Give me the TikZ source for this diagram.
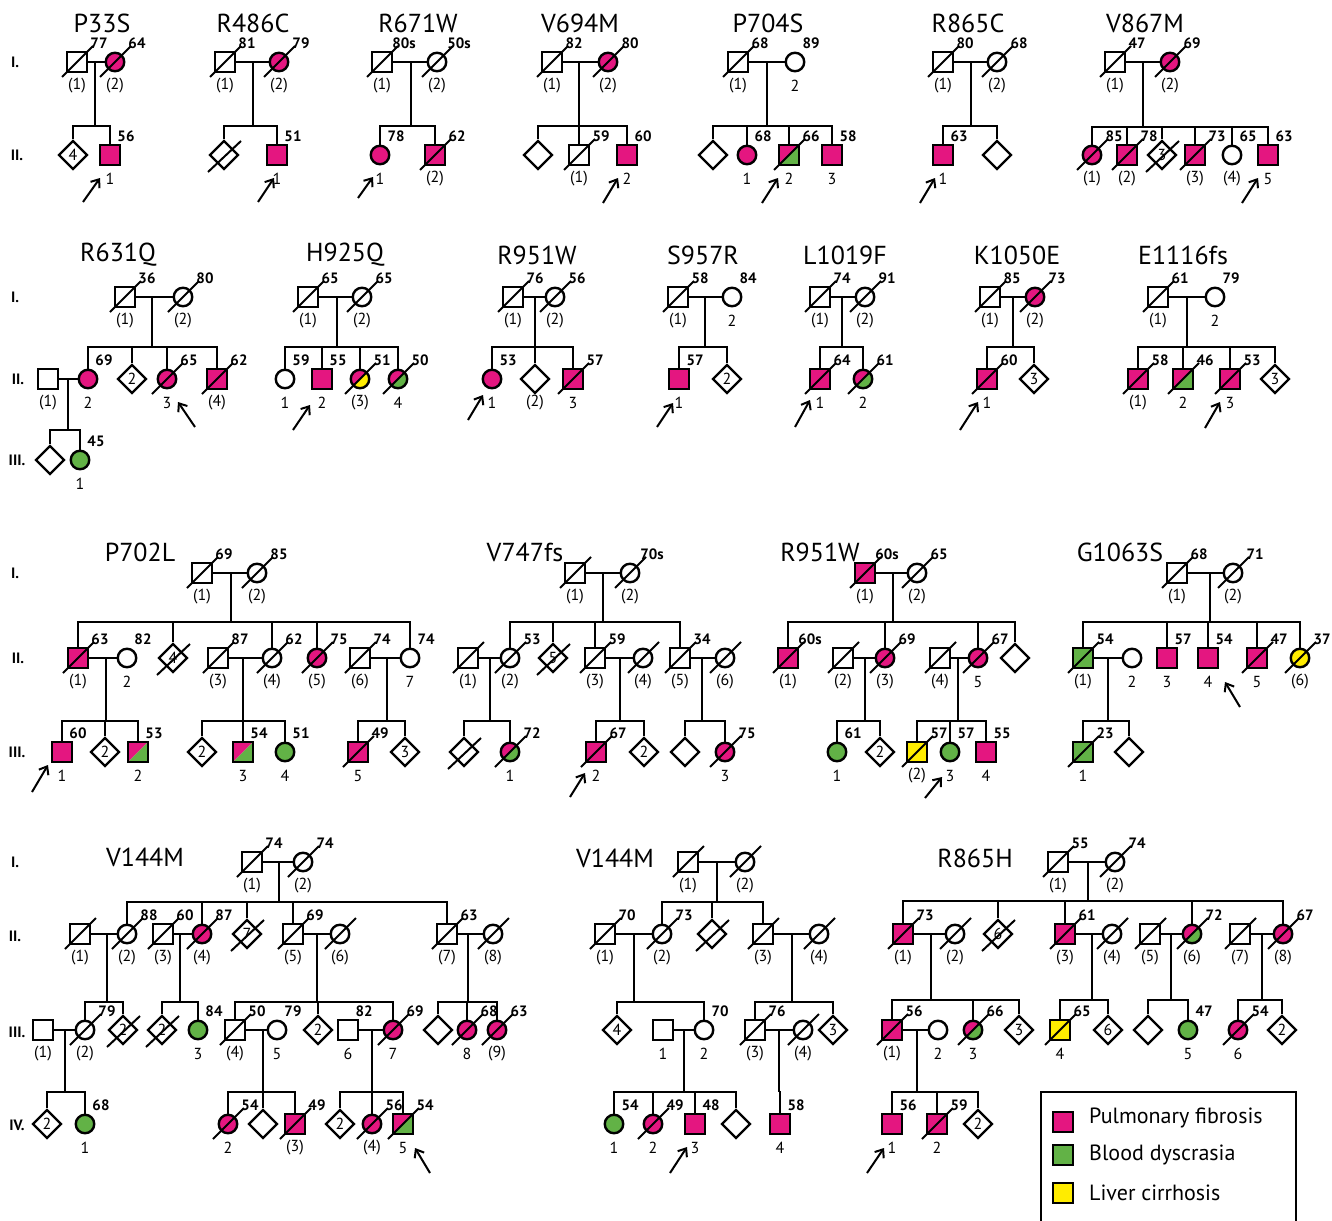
\documentclass[tikz,border=0pt]{standalone}
\usepackage{fontspec}
\setmainfont{PT Sans}
\usetikzlibrary{shapes.geometric,arrows.meta}
\definecolor{pkc}{RGB}{228,22,128}
\definecolor{gnc}{RGB}{98,178,70}
\definecolor{ylc}{RGB}{255,236,0}
\pgfdeclarelayer{bg}
\pgfsetlayers{bg,main}
\tikzset{
 ln/.style={line width=2.4pt},
 sym/.style={draw, line width=2.4pt, fill=white, inner sep=0pt},
 sq/.style={sym, rectangle, minimum size=19.5pt},
 ci/.style={sym, circle, minimum size=18.5pt},
 di/.style={sym, diamond, minimum width=29pt, minimum height=29pt, font=\fontsize{16}{16}\selectfont},
 pk/.style={fill=pkc}, gn/.style={fill=gnc}, yl/.style={fill=ylc},
 halffill/.style={path picture={
   \fill[pkc] (path picture bounding box.south west) -- (path picture bounding box.north west) -- (path picture bounding box.north east) -- cycle;
   \fill[#1] (path picture bounding box.south west) -- (path picture bounding box.south east) -- (path picture bounding box.north east) -- cycle;}},
 pg/.style={halffill=gnc}, py/.style={halffill=ylc},
 sl/.style={line width=2pt},
 lab/.style={font=\fontsize{16}{16}\selectfont, inner sep=0pt},
 age/.style={font=\bfseries\fontsize{15}{15}\selectfont, inner sep=0pt},
 ttl/.style={font=\fontsize{26}{26}\selectfont, inner sep=0pt},
 gen/.style={font=\bfseries\fontsize{15}{15}\selectfont, inner sep=0pt},
 arr/.style={line width=2pt, -{Straight Barb[length=7pt,width=11pt]}},
 lgt/.style={anchor=west, inner sep=0pt, font=\fontsize{22}{22}\selectfont},
}
\newcommand\Msq[5][]{\node[sq,#1] (#2) at (#3) {};\node[lab] (#2-l) at ([yshift=-24pt]#2.center) {#4};\node[age] (#2-a) at ([xshift=16pt,yshift=19pt]#2.center) {#5};}
\newcommand\Msqd[5][]{\node[sq,#1] (#2) at (#3) {};\draw[sl] ([xshift=-15pt,yshift=-15pt]#2.center) -- ([xshift=16pt,yshift=16pt]#2.center);\node[lab] (#2-l) at ([yshift=-24pt]#2.center) {#4};\node[age] (#2-a) at ([xshift=22pt,yshift=19pt]#2.center) {#5};}
\newcommand\Fci[5][]{\node[ci,#1] (#2) at (#3) {};\node[lab] (#2-l) at ([yshift=-24pt]#2.center) {#4};\node[age] (#2-a) at ([xshift=16pt,yshift=19pt]#2.center) {#5};}
\newcommand\Fcid[5][]{\node[ci,#1] (#2) at (#3) {};\draw[sl] ([xshift=-15pt,yshift=-15pt]#2.center) -- ([xshift=16pt,yshift=16pt]#2.center);\node[lab] (#2-l) at ([yshift=-24pt]#2.center) {#4};\node[age] (#2-a) at ([xshift=22pt,yshift=19pt]#2.center) {#5};}
\newcommand\Udi[4]{\node[di] (#1) at (#2) {#3};\node[lab] (#1-l) at ([yshift=-24pt]#1.center) {#4};}
\newcommand\Udid[4]{\node[di] (#1) at (#2) {#3};\draw[sl] ([xshift=-16pt,yshift=-17pt]#1.center) -- ([xshift=17pt,yshift=14pt]#1.center);\node[lab] (#1-l) at ([yshift=-24pt]#1.center) {#4};}
\newcommand\Mar[2]{\draw[ln] (#1) -- (#2);}
\newcommand\Desc[5]{\coordinate (#1) at (#2,#3);\coordinate (#1s) at (#2,#4);\draw[ln] (#1) -- (#1s);\foreach \c in {#5}{\draw[ln] (#1s) -- (\c |- #1s) -- (\c);}}
\newcommand\Arr[3]{\coordinate (#1t) at (#2);\coordinate (#1h) at (#3);\draw[arr] (#1t) -- (#1h);}
\begin{document}
\begin{tikzpicture}[x=1pt,y=-1pt]
\useasboundingbox (0,0) rectangle (1332,1220);
% generation labels
\node[gen] (ga1) at (15,62) {I.};
\node[gen] (ga2) at (17,155) {II.};
\node[gen] (gb1) at (15,297) {I.};
\node[gen] (gb2) at (18,379) {II.};
\node[gen] (gb3) at (17,460) {III.};
\node[gen] (gc1) at (15,573) {I.};
\node[gen] (gc2) at (18,658) {II.};
\node[gen] (gc3) at (17,752) {III.};
\node[gen] (gd1) at (15,862) {I.};
\node[gen] (gd2) at (15,936) {II.};
\node[gen] (gd3) at (17,1032) {III.};
\node[gen] (gd4) at (17,1125) {IV.};
% titles
\node[ttl] (ta) at (102,23) {P33S};
\node[ttl] (tb) at (253,23) {R486C};
\node[ttl] (tc) at (418,23) {R671W};
\node[ttl] (td) at (580,23) {V694M};
\node[ttl] (te) at (768,23) {P704S};
\node[ttl] (tf) at (968,23) {R865C};
\node[ttl] (tg) at (1145,23) {V867M};
\node[ttl] (th) at (118,255) {R631Q};
\node[ttl] (ti) at (345,255) {H925Q};
\node[ttl] (tj) at (537,255) {R951W};
\node[ttl] (tk) at (703,255) {S957R};
\node[ttl] (tl) at (845,255) {L1019F};
\node[ttl] (tm) at (1017,255) {K1050E};
\node[ttl] (tn) at (1183,255) {E1116fs};
\node[ttl] (to) at (140,552) {P702L};
\node[ttl] (tp) at (525,552) {V747fs};
\node[ttl] (tq) at (820,552) {R951W};
\node[ttl] (tr) at (1120,552) {G1063S};
\node[ttl] (ts) at (145,857) {V144M};
\node[ttl] (tt) at (615,858) {V144M};
\node[ttl] (tu) at (975,858) {R865H};
% ---------- P33S
\Msqd{a11}{77,62}{(1)}{77}
\Fcid[pk]{a12}{115,62}{(2)}{64}
\Udi{a21}{73,155}{4}{}
\Msq[pk]{a22}{110,155}{1}{56}
\Arr{aa}{83,202}{100,178}
% ---------- R486C
\Msqd{b11}{225,62}{(1)}{81}
\Fcid[pk]{b12}{279,62}{(2)}{79}
\Udid{b21}{224,155}{}{}
\Msq[pk]{b22}{277,155}{1}{51}
\Arr{ab}{258,202}{274,178}
% ---------- R671W
\Msqd{c11}{382,62}{(1)}{80s}
\Fcid{c12}{437,62}{(2)}{50s}
\Fci[pk]{c21}{380,155}{1}{78}
\Msqd[pk]{c22}{435,155}{(2)}{62}
\Arr{ac}{358,198}{373,177}
% ---------- V694M
\Msqd{d11}{552,62}{(1)}{82}
\Fcid[pk]{d12}{608,62}{(2)}{80}
\Udi{d21}{538,155}{}{}
\Msqd{d22}{579,155}{(1)}{59}
\Msq[pk]{d23}{627,155}{2}{60}
\Arr{ad}{603,203}{618,178}
% ---------- P704S
\Msqd{e11}{738,62}{(1)}{68}
\Fci{e12}{795,62}{2}{89}
\Udi{e21}{713,155}{}{}
\Fci[pk]{e22}{747,155}{1}{68}
\Msqd[pg]{e23}{789,155}{2}{66}
\Msq[pk]{e24}{832,155}{3}{58}
\Arr{ae}{762,203}{778,178}
% ---------- R865C
\Msqd{f11}{943,62}{(1)}{80}
\Fcid{f12}{997,62}{(2)}{68}
\Msq[pk]{f21}{943,155}{1}{63}
\Udi{f22}{997,155}{}{}
\Arr{af}{920,203}{935,178}
% ---------- V867M
\Msqd{g11}{1115,62}{(1)}{47}
\Fcid[pk]{g12}{1170,62}{(2)}{69}
\Fcid[pk]{g21}{1092,155}{(1)}{85}
\Msqd[pk]{g22}{1127,155}{(2)}{78}
\Udid{g23}{1162,155}{3}{}
\Msqd[pk]{g24}{1195,155}{(3)}{73}
\Fci{g25}{1232,155}{(4)}{65}
\Msq[pk]{g26}{1268,155}{5}{63}
\Arr{ag}{1242,203}{1258,178}
% ---------- R631Q
\Msqd{h11}{125,297}{(1)}{36}
\Fcid{h12}{183,297}{(2)}{80}
\Msq{h21}{48,379}{(1)}{}
\Fci[pk]{h22}{88,379}{2}{69}
\Udi{h23}{132,379}{2}{}
\Fcid[pk]{h24}{167,379}{3}{65}
\Msqd[pk]{h25}{217,379}{(4)}{62}
\Udi{h31}{50,460}{}{}
\Fci[gn]{h32}{80,460}{1}{45}
\Arr{ah}{195,427}{178,402}
% ---------- H925Q
\Msqd{i11}{308,297}{(1)}{65}
\Fcid{i12}{362,297}{(2)}{65}
\Fci{i21}{285,379}{1}{59}
\Msq[pk]{i22}{322,379}{2}{55}
\Fcid[py]{i23}{360,379}{(3)}{51}
\Fcid[pg]{i24}{398,379}{4}{50}
\Arr{ai}{293,430}{310,405}
% ---------- R951W
\Msqd{j11}{513,297}{(1)}{76}
\Fcid{j12}{555,297}{(2)}{56}
\Fci[pk]{j21}{492,379}{1}{53}
\Udi{j22}{535,379}{}{(2)}
\Msqd[pk]{j23}{573,379}{3}{57}
\Arr{aj}{468,420}{483,395}
% ---------- S957R
\Msqd{k11}{678,297}{(1)}{58}
\Fci{k12}{732,297}{2}{84}
\Msq[pk]{k21}{679,379}{1}{57}
\Udi{k22}{727,379}{2}{}
\Arr{ak}{657,427}{673,403}
% ---------- L1019F
\Msqd{l11}{820,297}{(1)}{74}
\Fcid{l12}{865,297}{(2)}{91}
\Msqd[pk]{l21}{820,379}{1}{64}
\Fcid[pg]{l22}{863,379}{2}{61}
\Arr{al}{795,427}{810,400}
% ---------- K1050E
\Msqd{m11}{990,297}{(1)}{85}
\Fcid[pk]{m12}{1035,297}{(2)}{73}
\Msqd[pk]{m21}{987,379}{1}{60}
\Udi{m22}{1034,379}{3}{}
\Arr{am}{960,430}{978,402}
% ---------- E1116fs
\Msqd{n11}{1158,297}{(1)}{61}
\Fci{n12}{1215,297}{2}{79}
\Msqd[pk]{n21}{1138,379}{(1)}{58}
\Msqd[pg]{n22}{1183,379}{2}{46}
\Msqd[pk]{n23}{1230,379}{3}{53}
\Udi{n24}{1275,379}{3}{}
\Arr{an}{1205,428}{1220,402}
% ---------- P702L
\Msqd{o11}{202,573}{(1)}{69}
\Fcid{o12}{257,573}{(2)}{85}
\Msqd[pk]{o21}{78,658}{(1)}{63}
\Fci{o22}{127,658}{2}{82}
\Udid{o23}{173,658}{4}{}
\Msqd{o24}{218,658}{(3)}{87}
\Fcid{o25}{272,658}{(4)}{62}
\Fcid[pk]{o26}{317,658}{(5)}{75}
\Msqd{o27}{360,658}{(6)}{74}
\Fci{o28}{410,658}{7}{74}
\Msq[pk]{o31}{62,752}{1}{60}
\Udi{o32}{105,752}{2}{}
\Msq[pg]{o33}{138,752}{2}{53}
\Udi{o34}{202,752}{2}{}
\Msq[pg]{o35}{243,752}{3}{54}
\Fci[gn]{o36}{285,752}{4}{51}
\Msqd[pk]{o37}{358,752}{5}{49}
\Udi{o38}{405,752}{3}{}
\Arr{ao}{32,792}{48,765}
% ---------- V747fs
\Msqd{p11}{575,573}{(1)}{}
\Fcid{p12}{630,573}{(2)}{70s}
\Msqd{p21}{468,658}{(1)}{}
\Fcid{p22}{510,658}{(2)}{53}
\Udid{p23}{553,658}{5}{}
\Msqd{p24}{595,658}{(3)}{59}
\Fcid{p25}{643,658}{(4)}{}
\Msqd{p26}{680,658}{(5)}{34}
\Fcid{p27}{725,658}{(6)}{}
\Udid{p31}{464,752}{}{}
\Fcid[pg]{p32}{510,752}{1}{72}
\Msqd[pk]{p33}{596,752}{2}{67}
\Udi{p34}{644,752}{2}{}
\Udi{p35}{685,752}{}{}
\Fcid[pk]{p36}{725,752}{3}{75}
\Arr{ap}{570,797}{585,773}
% ---------- R951W (row 3)
\Msqd[pk]{q11}{865,573}{(1)}{60s}
\Fcid{q12}{917,573}{(2)}{65}
\Msqd[pk]{q21}{788,658}{(1)}{60s}
\Msqd{q22}{843,658}{(2)}{}
\Fcid[pk]{q23}{885,658}{(3)}{69}
\Msqd{q24}{940,658}{(4)}{}
\Fcid[pk]{q25}{978,658}{5}{67}
\Udi{q26}{1015,658}{}{}
\Fci[gn]{q31}{837,752}{1}{61}
\Udi{q32}{880,752}{2}{}
\Msqd[yl]{q33}{917,752}{(2)}{57}
\Fci[gn]{q34}{950,752}{3}{57}
\Msq[pk]{q35}{986,752}{4}{55}
\Arr{aq}{925,798}{942,777}
% ---------- G1063S
\Msqd{r11}{1177,573}{(1)}{68}
\Fcid{r12}{1233,573}{(2)}{71}
\Msqd[gn]{r21}{1083,658}{(1)}{54}
\Fci{r22}{1132,658}{2}{}
\Msq[pk]{r23}{1167,658}{3}{57}
\Msq[pk]{r24}{1208,658}{4}{54}
\Msqd[pk]{r25}{1257,658}{5}{47}
\Fcid[yl]{r26}{1300,658}{(6)}{37}
\Msqd[gn]{r31}{1083,752}{1}{23}
\Udi{r32}{1129,752}{}{}
\Arr{ar}{1240,707}{1225,682}
% ---------- V144M (left)
\Msqd{s11}{252,862}{(1)}{74}
\Fcid{s12}{303,862}{(2)}{74}
\Msqd{s21}{80,934}{(1)}{}
\Fcid{s22}{127,934}{(2)}{88}
\Msqd{s23}{163,934}{(3)}{60}
\Fcid[pk]{s24}{202,934}{(4)}{87}
\Udid{s25}{247,934}{7}{}
\Msqd{s26}{293,934}{(5)}{69}
\Fcid{s27}{340,934}{(6)}{}
\Msqd{s28}{447,934}{(7)}{63}
\Fcid{s29}{493,934}{(8)}{}
\Msq{s31}{43,1030}{(1)}{}
\Fcid{s32}{85,1030}{(2)}{79}
\Udid{s33}{123,1030}{2}{}
\Udid{s34}{162,1030}{2}{}
\Fci[gn]{s35}{198,1030}{3}{84}
\Msqd{s36}{235,1030}{(4)}{50}
\Fci{s37}{277,1030}{5}{79}
\Udi{s38}{318,1030}{2}{}
\Msq{s39}{348,1030}{6}{82}
\Fcid[pk]{s310}{393,1030}{7}{69}
\Udi{s311}{438,1030}{}{}
\Fcid[pk]{s312}{467,1030}{8}{68}
\Fcid[pk]{s313}{497,1030}{(9)}{63}
\Udi{s41}{47,1124}{2}{}
\Fci[gn]{s42}{85,1124}{1}{68}
\Fcid[pk]{s43}{228,1124}{2}{54}
\Udi{s44}{263,1124}{}{}
\Msqd[pk]{s45}{295,1124}{(3)}{49}
\Udi{s46}{340,1124}{2}{}
\Fcid[pk]{s47}{372,1124}{(4)}{56}
\Msqd[pg]{s48}{403,1124}{5}{54}
\Arr{as}{430,1173}{415,1148}
% ---------- V144M (middle)
\Msqd{t11}{688,862}{(1)}{}
\Fcid{t12}{745,862}{(2)}{}
\Msqd{t21}{605,934}{(1)}{70}
\Fcid{t22}{662,934}{(2)}{73}
\Udid{t23}{712,934}{}{}
\Msqd{t24}{763,934}{(3)}{}
\Fcid{t25}{819,934}{(4)}{}
\Udi{t31}{617,1030}{4}{}
\Msq{t32}{663,1030}{1}{}
\Fci{t33}{704,1030}{2}{70}
\Msqd{t34}{755,1030}{(3)}{76}
\Fcid{t35}{803,1030}{(4)}{}
\Udi{t36}{833,1030}{3}{}
\Fci[gn]{t41}{614,1124}{1}{54}
\Fcid[pk]{t42}{653,1124}{2}{49}
\Msq[pk]{t43}{695,1124}{3}{48}
\Udi{t44}{736,1124}{}{}
\Msq[pk]{t45}{780,1124}{4}{58}
\Arr{at}{670,1173}{687,1147}
% ---------- R865H
\Msqd{u11}{1058,862}{(1)}{55}
\Fcid{u12}{1115,862}{(2)}{74}
\Msqd[pk]{u21}{903,934}{(1)}{73}
\Fcid{u22}{955,934}{(2)}{}
\Udid{u23}{998,934}{6}{}
\Msqd[pk]{u24}{1065,934}{(3)}{61}
\Fcid{u25}{1112,934}{(4)}{}
\Msqd{u26}{1150,934}{(5)}{}
\Fcid[pg]{u27}{1192,934}{(6)}{72}
\Msqd{u28}{1240,934}{(7)}{}
\Fcid[pk]{u29}{1283,934}{(8)}{67}
\Msqd[pk]{u31}{892,1030}{(1)}{56}
\Fci{u32}{938,1030}{2}{}
\Fcid[pg]{u33}{973,1030}{3}{66}
\Udi{u34}{1019,1030}{3}{}
\Msqd[yl]{u35}{1060,1030}{4}{65}
\Udi{u36}{1108,1030}{6}{}
\Udi{u37}{1148,1030}{}{}
\Fci[gn]{u38}{1188,1030}{5}{47}
\Fcid[pk]{u39}{1238,1030}{6}{54}
\Udi{u310}{1282,1030}{2}{}
\Msq[pk]{u41}{892,1124}{1}{56}
\Msqd[pk]{u42}{937,1124}{2}{59}
\Udi{u43}{978,1124}{2}{}
\Arr{au}{867,1173}{884,1148}
% ---------- legend
\node[draw, line width=2.4pt, minimum width=255pt, minimum height=150pt, anchor=north west, inner sep=0pt] (legend) at (1040,1091) {};
\node[sq,pk] (lg1) at (1063,1122) {};
\node[lgt] (lg1t) at (1089,1118) {Pulmonary fibrosis};
\node[sq,gn] (lg2) at (1063,1155) {};
\node[lgt] (lg2t) at (1089,1155) {Blood dyscrasia};
\node[sq,yl] (lg3) at (1063,1193) {};
\node[lgt] (lg3t) at (1089,1193) {Liver cirrhosis};
% ---------- connecting lines
\begin{pgfonlayer}{bg}
\fill[white] (0,0) rectangle (1332,1220);
\Mar{a11}{a12}\Desc{da}{95}{62}{126}{a21,a22}
\Mar{b11}{b12}\Desc{db}{253}{62}{126}{b21,b22}
\Mar{c11}{c12}\Desc{dc}{411}{62}{126}{c21,c22}
\Mar{d11}{d12}\Desc{dd}{579}{62}{126}{d21,d22,d23}
\Mar{e11}{e12}\Desc{de}{767}{62}{126}{e21,e22,e23,e24}
\Mar{f11}{f12}\Desc{df}{971}{62}{126}{f21,f22}
\Mar{g11}{g12}\Desc{dg}{1143}{62}{127}{g21,g22,g23,g24,g25,g26}
\Mar{h11}{h12}\Desc{dh}{152}{297}{347}{h22,h23,h24,h25}
\Mar{h21}{h22}\Desc{dh2}{68}{379}{430}{h31,h32}
\Mar{i11}{i12}\Desc{di}{337}{297}{347}{i21,i22,i23,i24}
\Mar{j11}{j12}\Desc{dj}{535}{297}{347}{j21,j22,j23}
\Mar{k11}{k12}\Desc{dk}{705}{297}{347}{k21,k22}
\Mar{l11}{l12}\Desc{dl}{842}{297}{347}{l21,l22}
\Mar{m11}{m12}\Desc{dm}{1013}{297}{347}{m21,m22}
\Mar{n11}{n12}\Desc{dn}{1187}{297}{347}{n21,n22,n23,n24}
\Mar{o11}{o12}\Desc{do}{231}{573}{622}{o21,o23,o25,o26,o28}
\Mar{o21}{o22}\Desc{do2}{106}{658}{721}{o31,o32,o33}
\Mar{o24}{o25}\Desc{do3}{243}{658}{721}{o34,o35,o36}
\Mar{o27}{o28}\Desc{do4}{387}{658}{721}{o37,o38}
\Mar{p11}{p12}\Desc{dp}{603}{573}{622}{p22,p23,p24,p26}
\Mar{p21}{p22}\Desc{dp2}{490}{658}{721}{p31,p32}
\Mar{p24}{p25}\Desc{dp3}{620}{658}{721}{p33,p34}
\Mar{p26}{p27}\Desc{dp4}{702}{658}{721}{p35,p36}
\Mar{q11}{q12}\Desc{dq}{893}{573}{622}{q21,q23,q25,q26}
\Mar{q22}{q23}\Desc{dq2}{865}{658}{721}{q31,q32}
\Mar{q24}{q25}\Desc{dq3}{958}{658}{721}{q33,q34,q35}
\Mar{r11}{r12}\Desc{dr}{1210}{573}{622}{r21,r23,r24,r25,r26}
\Mar{r21}{r22}\Desc{dr2}{1108}{658}{721}{r31,r32}
\Mar{s11}{s12}\Desc{ds}{279}{862}{902}{s22,s24,s25,s26,s28}
\Mar{s21}{s22}\Desc{ds2}{107}{934}{1002}{s32,s33}
\Mar{s23}{s24}\Desc{ds3}{180}{934}{1002}{s34,s35}
\Mar{s26}{s27}\Desc{ds4}{317}{934}{1002}{s36,s38,s310}
\Mar{s28}{s29}\Desc{ds5}{468}{934}{1002}{s311,s312,s313}
\Mar{s31}{s32}\Desc{ds6}{65}{1030}{1092}{s41,s42}
\Mar{s36}{s37}\Desc{ds7}{263}{1030}{1092}{s43,s44,s45}
\Mar{s39}{s310}\Desc{ds8}{372}{1030}{1092}{s46,s47,s48}
\Mar{t11}{t12}\Desc{dt}{717}{862}{902}{t22,t23,t24}
\Mar{t21}{t22}\Desc{dt2}{634}{934}{1002}{t31,t33}
\Mar{t24}{t25}\Desc{dt3}{792}{934}{1002}{t34,t36}
\Mar{t32}{t33}\Desc{dt4}{684}{1030}{1092}{t41,t42,t43,t44}
\Mar{t34}{t35}\Desc{dt5}{779}{1030}{1092}{t45}
\Mar{u11}{u12}\Desc{du}{1088}{862}{901}{u21,u23,u24,u27,u29}
\Mar{u21}{u22}\Desc{du2}{931}{934}{1000}{u31,u33,u34}
\Mar{u24}{u25}\Desc{du3}{1092}{934}{1000}{u35,u36}
\Mar{u26}{u27}\Desc{du4}{1171}{934}{1000}{u37,u38}
\Mar{u28}{u29}\Desc{du5}{1262}{934}{1000}{u39,u310}
\Mar{u31}{u32}\Desc{du6}{917}{1030}{1092}{u41,u42,u43}
\end{pgfonlayer}
\end{tikzpicture}
\end{document}
